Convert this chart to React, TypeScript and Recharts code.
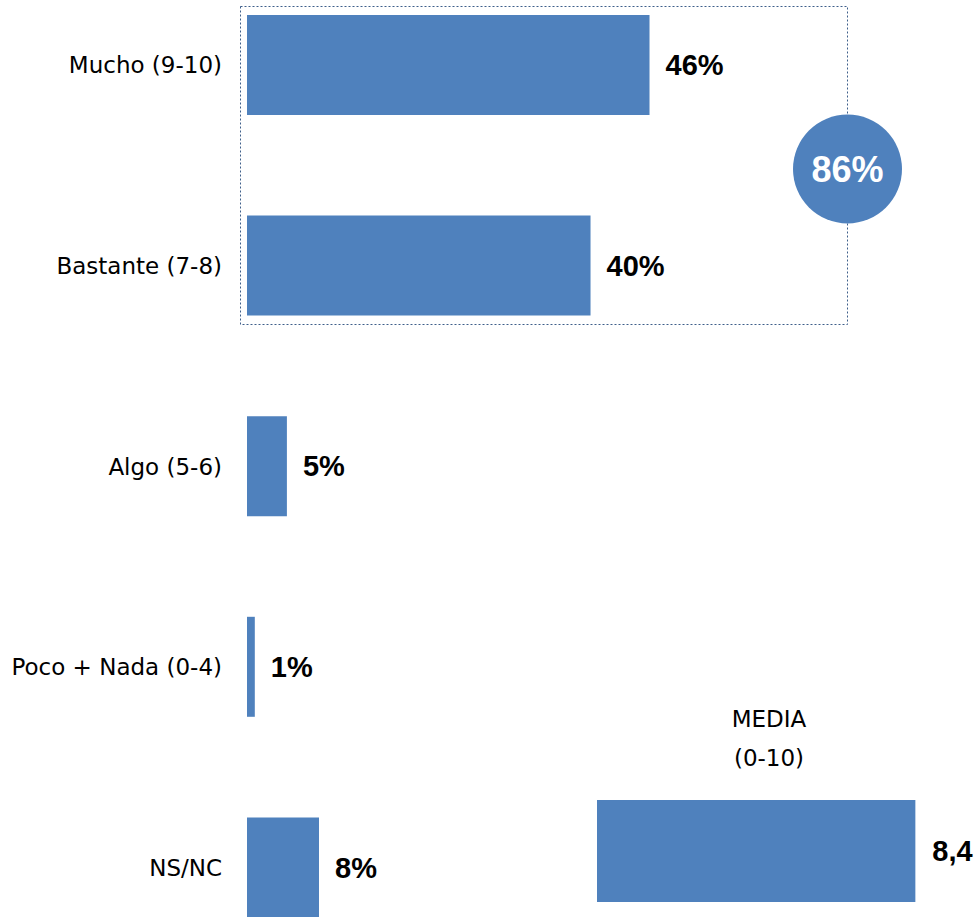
import { BarChart, Bar, XAxis, YAxis, LabelList } from "recharts";

const categories = ["Mucho (9-10)", "Bastante (7-8)", "Algo (5-6)", "Poco + Nada (0-4)", "NS/NC"];
const shares = [46.4, 39.6, 4.6, 0.9, 8.3];
const highlightTotal = "86%";

const meanLabel = ["MEDIA", "(0-10)"];
const meanValue = 8.4;

const data = categories.map((name, i) => ({ name, value: shares[i] }));
const meanData = [{ name: meanLabel.join(" "), value: meanValue }];

const BLUE = "#4F81BD";
const regularFont = "'DejaVu Sans', sans-serif";
const boldFont = "'Liberation Sans', Arial, sans-serif";

export default function App() {
  return (
    <div style={{ position: "fixed", left: 0, top: 0, width: 976, height: 917, overflow: "hidden", background: "#fff" }}>
      <div style={{ position: "absolute", left: 0, top: -35 }}>
        <BarChart width={976} height={1003} data={data} layout="vertical" margin={{ top: 0, right: 35, bottom: 0, left: 0 }}>
          <XAxis type="number" domain={[0, 80]} hide />
          <YAxis
            type="category"
            dataKey="name"
            width={247}
            axisLine={false}
            tickLine={false}
            tickSize={0}
            tickMargin={25}
            tick={{ fontSize: 23, fill: "#000", fontFamily: regularFont }}
          />
          <Bar dataKey="value" fill={BLUE} barSize={100} isAnimationActive={false}>
            <LabelList
              dataKey="value"
              position="right"
              offset={16}
              formatter={(v: any) => `${Math.round(Number(v))}%`}
              style={{ fontSize: 29, fontWeight: 700, fill: "#000", fontFamily: boldFont }}
            />
          </Bar>
        </BarChart>
      </div>

      <svg width={976} height={917} style={{ position: "absolute", left: 0, top: 0, pointerEvents: "none" }}>
        <rect x={240.5} y={6.5} width={607} height={318} fill="none" stroke="#3E5F8A" strokeWidth={1} strokeDasharray="2 2" />
        <circle cx={847.5} cy={169} r={54.5} fill={BLUE} />
        <text x={847.5} y={182} textAnchor="middle" fill="#fff" fontSize={36} fontWeight={700} fontFamily={boldFont}>
          {highlightTotal}
        </text>
      </svg>

      <div
        style={{
          position: "absolute",
          left: 669,
          top: 700,
          width: 200,
          textAlign: "center",
          fontFamily: regularFont,
          fontSize: 23,
          lineHeight: "39px",
          color: "#000",
        }}
      >
        {meanLabel.map((t) => (
          <div key={t}>{t}</div>
        ))}
      </div>

      <div style={{ position: "absolute", left: 597, top: 800 }}>
        <BarChart
          width={439}
          height={102}
          data={meanData}
          layout="vertical"
          barCategoryGap={0}
          margin={{ top: 0, right: 60, bottom: 0, left: 0 }}
        >
          <XAxis type="number" domain={[0, 10]} hide />
          <YAxis type="category" dataKey="name" hide />
          <Bar dataKey="value" fill={BLUE} isAnimationActive={false}>
            <LabelList
              dataKey="value"
              position="right"
              offset={17}
              formatter={(v: any) => String(v).replace(".", ",")}
              style={{ fontSize: 29, fontWeight: 700, fill: "#000", fontFamily: boldFont }}
            />
          </Bar>
        </BarChart>
      </div>
    </div>
  );
}
